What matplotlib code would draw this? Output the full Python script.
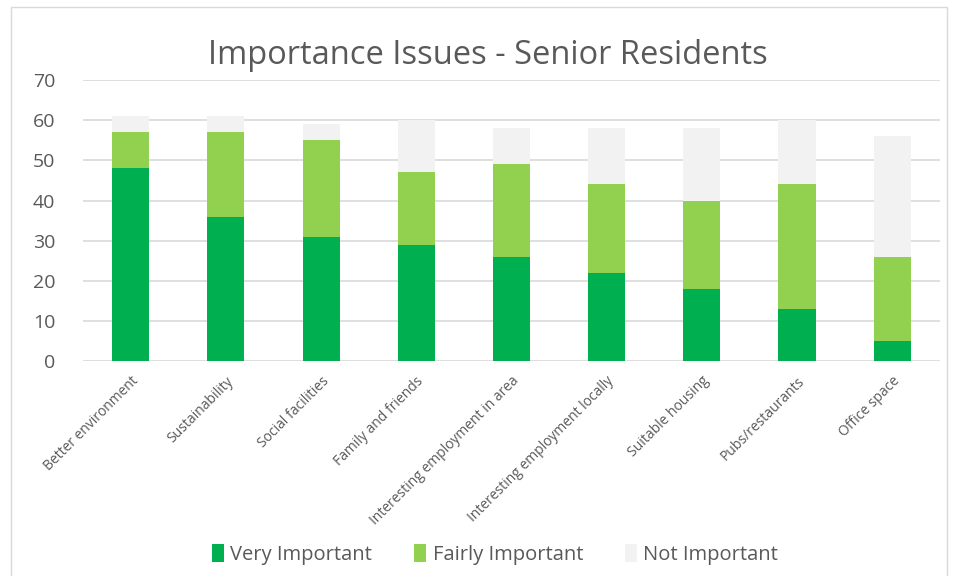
import matplotlib
matplotlib.use("Agg")
import matplotlib.pyplot as plt
from matplotlib.patches import Rectangle

categories = ["Better environment", "Sustainability", "Social facilities", "Family and friends",
              "Interesting employment in area", "Interesting employment locally",
              "Suitable housing", "Pubs/restaurants", "Office space"]
very_important = [48, 36, 31, 29, 26, 22, 18, 13, 5]
fairly_important = [9, 21, 24, 18, 23, 22, 22, 31, 21]
not_important = [4, 4, 4, 13, 9, 14, 18, 16, 30]
y_ticks = [0, 10, 20, 30, 40, 50, 60, 70]

plt.rcParams['font.family'] = ['Open Sans', 'DejaVu Sans']
text_color = "#595959"

fig = plt.figure(figsize=(9.56, 5.76), dpi=100)
ax = fig.add_axes([0.087, 0.373, 0.896, 0.488])

x = list(range(len(categories)))
w = 0.39
ax.bar(x, very_important, w, color="#00B050", label="Very Important", zorder=3)
ax.bar(x, fairly_important, w, bottom=very_important, color="#92D050", label="Fairly Important", zorder=3)
bottom2 = [a + b for a, b in zip(very_important, fairly_important)]
ax.bar(x, not_important, w, bottom=bottom2, color="#F2F2F2", label="Not Important", zorder=3)

ax.set_xlim(-0.5, len(categories) - 0.5)
ax.set_ylim(0, 70)
ax.set_yticks(y_ticks)
ax.yaxis.grid(True, color="#D9D9D9", linewidth=1.2, zorder=0)
for s in ax.spines.values():
    s.set_visible(False)
ax.tick_params(axis='both', length=0, colors=text_color)
ax.tick_params(axis='y', labelsize=14, pad=20)
ax.set_xticks(x)
ax.set_xticklabels(categories, rotation=45, ha='right', rotation_mode='anchor', fontsize=10, color=text_color)
ax.tick_params(axis='x', pad=9)

fig.text(0.51, 0.903, "Importance Issues - Senior Residents", ha='center', va='center',
         fontsize=23.5, color=text_color)

leg = fig.legend(loc='center', bbox_to_anchor=(0.518, 0.038), ncol=3, frameon=False,
                 fontsize=14.5, handlelength=0.6, handleheight=1.0, columnspacing=2.1, handletextpad=0.3)
for t in leg.get_texts():
    t.set_color(text_color)

fig.patches.append(Rectangle((0.011, -0.01), 0.98, 0.997, transform=fig.transFigure,
                             fill=False, edgecolor="#D9D9D9", linewidth=1))

fig.savefig("out.png", dpi=100)
